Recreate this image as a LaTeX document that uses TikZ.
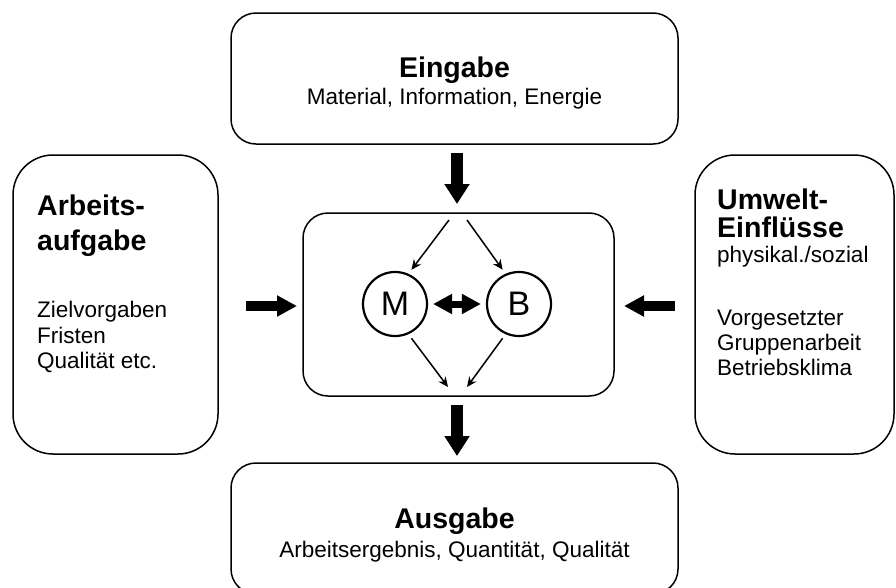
\documentclass[tikz,border=0pt]{standalone}
\usepackage{fontspec}
\setmainfont{Liberation Sans}
\usetikzlibrary{arrows.meta,calc}
\begin{document}
\begin{tikzpicture}[x=1pt,y=-1pt,
  box/.style={draw,line width=1.5pt,rounded corners=#1,inner sep=0pt},
  circ/.style={draw,circle,line width=2.2pt,minimum size=64pt,inner sep=0pt,font=\fontsize{34}{36}\selectfont},
  ttl/.style={inner sep=0pt,font=\bfseries\fontsize{28.5}{31}\selectfont},
  sub/.style={inner sep=0pt,font=\fontsize{22.5}{24}\selectfont},
  thin/.style={line width=1.5pt,-{Stealth[length=10pt,width=9pt]}},
  fat/.style={line width=12pt,-{Triangle[length=20pt,width=24pt]}},
  fath/.style={line width=10pt,-{Triangle[length=20pt,width=20pt]}},
  dbl/.style={line width=7pt,{Triangle[length=19pt,width=19pt]}-{Triangle[length=19pt,width=19pt]}}]
\useasboundingbox (0,0) rectangle (896,587);
% boxes
\node[box=25pt,minimum width=447pt,minimum height=131pt] (ein) at (454.5,78.5) {};
\node[box=25pt,minimum width=447pt,minimum height=131pt] (aus) at (454.5,528.5) {};
\node[box=40pt,minimum width=205pt,minimum height=299pt] (arb) at (115.5,304.5) {};
\node[box=40pt,minimum width=199pt,minimum height=299pt] (umw) at (794.5,304.5) {};
\node[box=25pt,minimum width=311pt,minimum height=183pt] (mid) at (458.5,304.5) {};
% texts
\node[ttl,anchor=base] (eint) at (454.5,77) {Eingabe};
\node[sub,anchor=base] (eins) at (454.5,104) {Material, Information, Energie};
\node[ttl,anchor=base] (aust) at (454.5,528) {Ausgabe};
\node[sub,anchor=base] (auss) at (454.5,557) {Arbeitsergebnis, Quantität, Qualität};
\node[ttl,anchor=base west] (arb1) at (37,215) {Arbeits-};
\node[ttl,anchor=base west] (arb2) at (37,250) {aufgabe};
\node[sub,anchor=base west] (arb3) at (37,317) {Zielvorgaben};
\node[sub,anchor=base west] (arb4) at (37,343) {Fristen};
\node[sub,anchor=base west] (arb5) at (37,368) {Qualität etc.};
\node[ttl,anchor=base west] (umw1) at (717,209) {Umwelt-};
\node[ttl,anchor=base west] (umw2) at (717,237) {Einflüsse};
\node[sub,anchor=base west] (umw3) at (717,262) {physikal./sozial};
\node[sub,anchor=base west] (umw4) at (717,325) {Vorgesetzter};
\node[sub,anchor=base west] (umw5) at (717,350) {Gruppenarbeit};
\node[sub,anchor=base west] (umw6) at (717,375) {Betriebsklima};
% circles
\node[circ] (M) at (395,304) {M};
\node[circ] (B) at (519,304) {B};
% coordinates
\coordinate (in1) at (449,220);
\coordinate (in2) at (467,220);
\coordinate (out1) at (448,387);
\coordinate (out2) at (467,387);
\coordinate (t1) at (457,153);
\coordinate (t2) at (457,204);
\coordinate (b1) at (457,405);
\coordinate (b2) at (457,456);
\coordinate (l1) at (246,306);
\coordinate (l2) at (297,306);
\coordinate (r1) at (675,306);
\coordinate (r2) at (624,306);
% arrows
\draw[thin,shorten >=5pt] (in1) -- (M.66);
\draw[thin,shorten >=5pt] (in2) -- (B.114);
\draw[thin,shorten <=5pt] (M.-66) -- (out1);
\draw[thin,shorten <=5pt] (B.-114) -- (out2);
\draw[dbl,shorten <=5pt,shorten >=5pt] (M.east) -- (B.west);
\draw[fat] (t1) -- (t2);
\draw[fat] (b1) -- (b2);
\draw[fath] (l1) -- (l2);
\draw[fath] (r1) -- (r2);
\end{tikzpicture}
\end{document}
